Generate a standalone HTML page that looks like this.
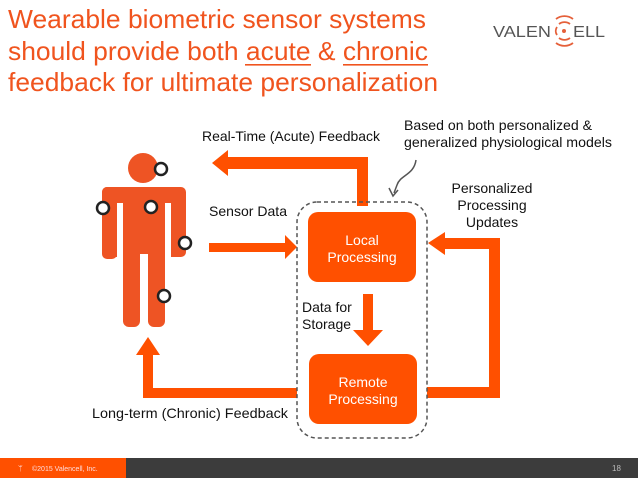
<!DOCTYPE html>
<html><head><meta charset="utf-8"><style>
html,body{margin:0;padding:0;background:#fff;width:638px;height:479px;overflow:hidden}
svg{display:block}
text{font-family:"Liberation Sans",sans-serif}
</style></head><body>
<svg width="638" height="479" viewBox="0 0 638 479" xmlns="http://www.w3.org/2000/svg">
<g fill="#f0541e" font-size="26">
<text x="8" y="28" textLength="418" lengthAdjust="spacingAndGlyphs">Wearable biometric sensor systems</text>
<text x="8" y="60" textLength="420" lengthAdjust="spacingAndGlyphs">should provide both acute &amp; chronic</text>
<text x="8" y="91" textLength="430" lengthAdjust="spacingAndGlyphs">feedback for ultimate personalization</text>
</g>
<rect x="245" y="64" width="66" height="1.6" fill="#f0541e"/>
<rect x="343" y="64" width="85" height="1.6" fill="#f0541e"/>
<!-- logo -->
<text x="493" y="37" font-size="16" fill="#555" textLength="58" lengthAdjust="spacingAndGlyphs">VALEN</text>
<text x="573" y="37" font-size="16" fill="#555" textLength="32" lengthAdjust="spacingAndGlyphs">ELL</text>
<circle cx="564" cy="31" r="2" fill="#e5603a"/>
<path d="M559 24 A9 9 0 0 1 570 24 M556 19 A14 14 0 0 1 573 19 M559 38 A9 9 0 0 0 570 38 M556 43 A14 14 0 0 0 573 43 M557 27 A7 7 0 0 0 557 35" stroke="#e5603a" stroke-width="1.8" fill="none"/>
<!-- person -->
<g fill="#ee5424">
<circle cx="143" cy="168" r="15"/>
<rect x="102" y="187" width="84" height="70" rx="5"/>
<rect x="102" y="187" width="15" height="72" rx="5"/>
<rect x="123" y="240" width="17" height="87" rx="6"/>
<rect x="148" y="240" width="17" height="87" rx="6"/>
</g>
<rect x="117" y="203" width="6" height="58" fill="#fff"/>
<rect x="165" y="203" width="6" height="58" fill="#fff"/>
<rect x="140" y="254" width="8" height="75" fill="#fff"/>
<g fill="#fff" stroke="#222" stroke-width="2.5">
<circle cx="161" cy="169" r="6"/><circle cx="103" cy="208" r="6"/><circle cx="151" cy="207" r="6"/><circle cx="185" cy="243" r="6"/><circle cx="164" cy="296" r="6"/>
</g>
<!-- arrows -->
<g fill="#ff5000">
<path d="M368 206 V157 H228 V150 L212 163 L228 176 V169 H357 V206 Z"/>
<path d="M209 243 H285 V235 L297 247 L285 259 V252 H209 Z"/>
<path d="M363 294 H373 V330 H383 L368 346 L353 330 H363 Z"/>
<path d="M427 387 H489 V249 H445 V255 L428 243 L445 232 V238 H500 V398 H427 Z"/>
<path d="M297 388 V398 H143 V355 H136 L148 337 L160 355 H153 V388 Z"/>
</g>
<rect x="297" y="202" width="130" height="236" rx="20" fill="none" stroke="#555" stroke-width="1.5" stroke-dasharray="4,3"/>
<rect x="308" y="212" width="108" height="70" rx="10" fill="#ff5000"/>
<rect x="309" y="354" width="108" height="70" rx="10" fill="#ff5000"/>
<g fill="#fff" font-size="14" text-anchor="middle">
<text x="362" y="245">Local</text><text x="362" y="262">Processing</text>
<text x="363" y="387">Remote</text><text x="363" y="404">Processing</text>
</g>
<path d="M416 160 C414 175 400 175 397 185 L394 193" stroke="#555" stroke-width="1.5" fill="none"/>
<path d="M389 188 L393 196 L398 190" stroke="#555" stroke-width="1.5" fill="none"/>
<g fill="#111" font-size="14">
<text x="202" y="141" textLength="178" lengthAdjust="spacingAndGlyphs">Real-Time (Acute) Feedback</text>
<text x="209" y="216" textLength="78" lengthAdjust="spacingAndGlyphs">Sensor Data</text>
<text x="92" y="418" textLength="196" lengthAdjust="spacingAndGlyphs">Long-term  (Chronic) Feedback</text>
<text x="302" y="312">Data for</text>
<text x="302" y="329">Storage</text>
<text x="404" y="130" textLength="188" lengthAdjust="spacingAndGlyphs">Based on both personalized &amp;</text>
<text x="404" y="147" textLength="208" lengthAdjust="spacingAndGlyphs">generalized physiological models</text>
<g text-anchor="middle"><text x="492" y="193">Personalized</text><text x="492" y="210">Processing</text><text x="492" y="227">Updates</text></g>
</g>
<!-- footer -->
<rect x="0" y="458" width="126" height="20" fill="#ff5000"/>
<rect x="126" y="458" width="512" height="20" fill="#3c3c3c"/>
<text x="32" y="471" font-size="7" fill="#fdd">©2015 Valencell, Inc.</text>
<text x="18" y="471" font-size="8" fill="#fdd">ᛘ</text>
<text x="612" y="471" font-size="8" fill="#bbb">18</text>
</svg>
</body></html>
